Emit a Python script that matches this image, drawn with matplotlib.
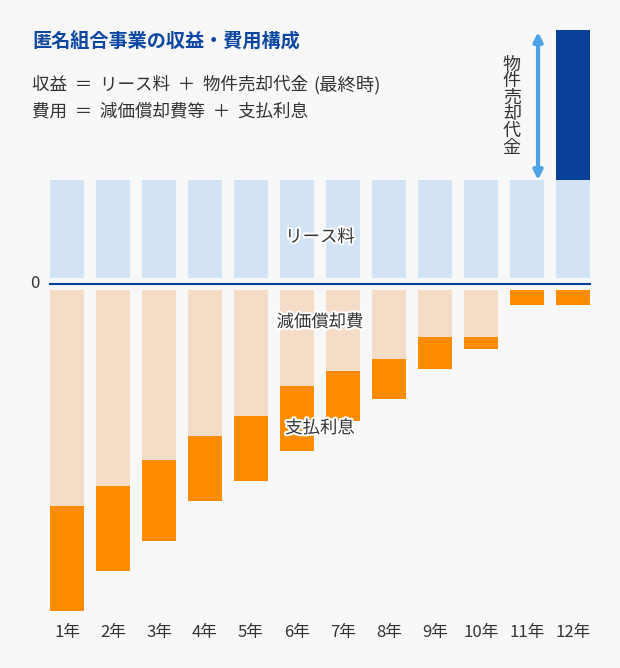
import numpy as np
import matplotlib
matplotlib.use('Agg')
from matplotlib import pyplot as plt, patheffects

plt.rcParams['font.family'] = ['Noto Sans CJK JP', 'DejaVu Sans']

years = ['1年', '2年', '3年', '4年', '5年', '6年', '7年', '8年', '9年', '10年', '11年', '12年']
lease = [98] * 12
sale = [0] * 11 + [150]
depreciation = [216, 196, 170, 146, 126, 96, 81, 69, 47, 47, 0, 0]
interest = [105, 85, 81, 65, 65, 65, 50, 40, 32, 12, 15, 15]

BG = '#f8f8f8'
TEXT = '#333333'
GAP = 6
W = 34 / 46

fig = plt.figure(figsize=(6.2, 6.68), dpi=100, facecolor=BG)
ax = fig.add_axes([40 / 620, 28 / 668, 560 / 620, 620 / 668])
ax.set_facecolor(BG)
ax.set_xlim(-27 / 46, 11 + 27 / 46)
ax.set_ylim(-356, 264)
ax.axis('off')

x = np.arange(len(years))
dep = -np.array(depreciation)
intr = -np.array(interest)
ax.bar(x, lease, W, bottom=GAP, color='#d1e3f5')
ax.bar(x, sale, W, bottom=GAP + np.array(lease), color='#0a409a')
ax.bar(x, dep, W, bottom=-GAP, color='#f5dcc6')
ax.bar(x, intr, W, bottom=-GAP + dep, color='#ff8c00')
ax.plot([-W / 2, 11 + W / 2], [0, 0], color='#0a409a', lw=1.5)

for i, lab in enumerate(years):
    ax.text(i, -349, lab, ha='center', va='center', fontsize=12, color=TEXT)
ax.text(-0.69, 0, '0', ha='center', va='center', fontsize=12, color=TEXT)

halo = [patheffects.withStroke(linewidth=3, foreground='white')]
ax.text(5.5, 47, 'リース料', ha='center', va='center', fontsize=12.5, color=TEXT, path_effects=halo)
ax.text(5.5, -38, '減価償却費', ha='center', va='center', fontsize=12.5, color=TEXT, path_effects=halo)
ax.text(5.5, -144, '支払利息', ha='center', va='center', fontsize=12.5, color=TEXT, path_effects=halo)

top = GAP + lease[-1] + sale[-1]
ax.annotate('', xy=(10.24, top - 2), xytext=(10.24, GAP + lease[-1]),
            arrowprops=dict(arrowstyle='<|-|>', color='#4ca3e8', lw=3,
                            mutation_scale=13, shrinkA=0, shrinkB=0))
ax.text(9.67, 178, '\n'.join('物件売却代金'), ha='center', va='center',
        fontsize=13, color=TEXT, linespacing=0.9)

fig.text(32 / 620, 1 - 42 / 668, '匿名組合事業の収益・費用構成', fontsize=13.8, fontweight='bold',
         color='#0d47a1', ha='left', va='center')
fig.text(32 / 620, 1 - 85 / 668, '収益  ＝  リース料  ＋  物件売却代金', fontsize=12.6,
         color=TEXT, ha='left', va='center')
fig.text(313 / 620, 1 - 85 / 668, '(最終時)', fontsize=13.2,
         color=TEXT, ha='left', va='center')
fig.text(32 / 620, 1 - 111 / 668, '費用  ＝  減価償却費等  ＋  支払利息', fontsize=12.6,
         color=TEXT, ha='left', va='center')

fig.savefig('out.png', dpi=100, facecolor=BG)
